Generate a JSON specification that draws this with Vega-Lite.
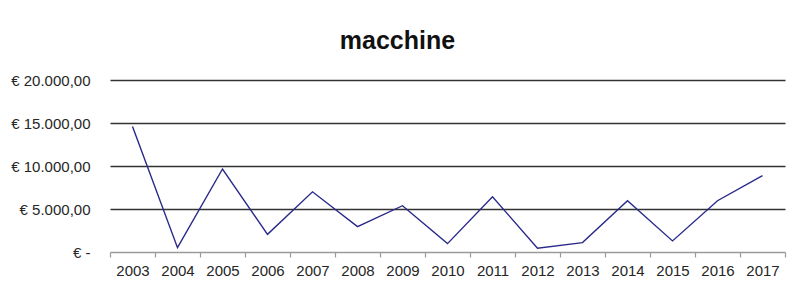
{
  "$schema": "https://vega.github.io/schema/vega-lite/v6.json",
  "autosize": {"type": "none"},
  "width": 675,
  "height": 172,
  "padding": {"left": 110, "top": 80, "right": 7, "bottom": 36},
  "background": "white",
  "title": {
    "text": "macchine",
    "font": "Liberation Sans",
    "fontSize": 25,
    "fontWeight": "bold",
    "color": "#111111",
    "anchor": "middle",
    "dx": -50,
    "offset": 19
  },
  "data": {
    "values": [
      {"year": "2003", "value": 14600},
      {"year": "2004", "value": 500},
      {"year": "2005", "value": 9650},
      {"year": "2006", "value": 2050},
      {"year": "2007", "value": 7000},
      {"year": "2008", "value": 2950},
      {"year": "2009", "value": 5380},
      {"year": "2010", "value": 970},
      {"year": "2011", "value": 6430},
      {"year": "2012", "value": 430},
      {"year": "2013", "value": 1090},
      {"year": "2014", "value": 5960},
      {"year": "2015", "value": 1290},
      {"year": "2016", "value": 5960},
      {"year": "2017", "value": 8890}
    ]
  },
  "mark": {"type": "line", "color": "#29298a", "strokeWidth": 1.4},
  "encoding": {
    "x": {
      "field": "year",
      "type": "ordinal",
      "bandPosition": 0.5,
      "scale": {"type": "band", "paddingInner": 0, "paddingOuter": 0},
      "axis": {
        "title": null,
        "labelAngle": 0,
        "tickBand": "extent",
        "grid": false,
        "domainColor": "#9a9a9a",
        "domainWidth": 1.5,
        "tickColor": "#9a9a9a",
        "tickWidth": 1.2,
        "tickSize": 5,
        "labelPadding": 6,
        "labelFont": "Liberation Sans",
        "labelFontSize": 15,
        "labelColor": "#262626"
      }
    },
    "y": {
      "field": "value",
      "type": "quantitative",
      "scale": {"domain": [0, 20000], "nice": false},
      "axis": {
        "title": null,
        "values": [0, 5000, 10000, 15000, 20000],
        "domain": false,
        "ticks": false,
        "labelPadding": 20,
        "labelFont": "Liberation Sans",
        "labelFontSize": 15,
        "labelColor": "#262626",
        "gridColor": {"condition": {"test": "datum.value == 0", "value": "transparent"}, "value": "#333333"},
        "gridWidth": 1.4,
        "labelExpr": "datum.value == 0 ? '€ -\u00a0\u00a0' : '€ ' + replace(replace(replace(format(datum.value, ',.2f'), ',', '#'), '.', ','), '#', '.')"
      }
    }
  },
  "config": {"view": {"stroke": null}}
}
